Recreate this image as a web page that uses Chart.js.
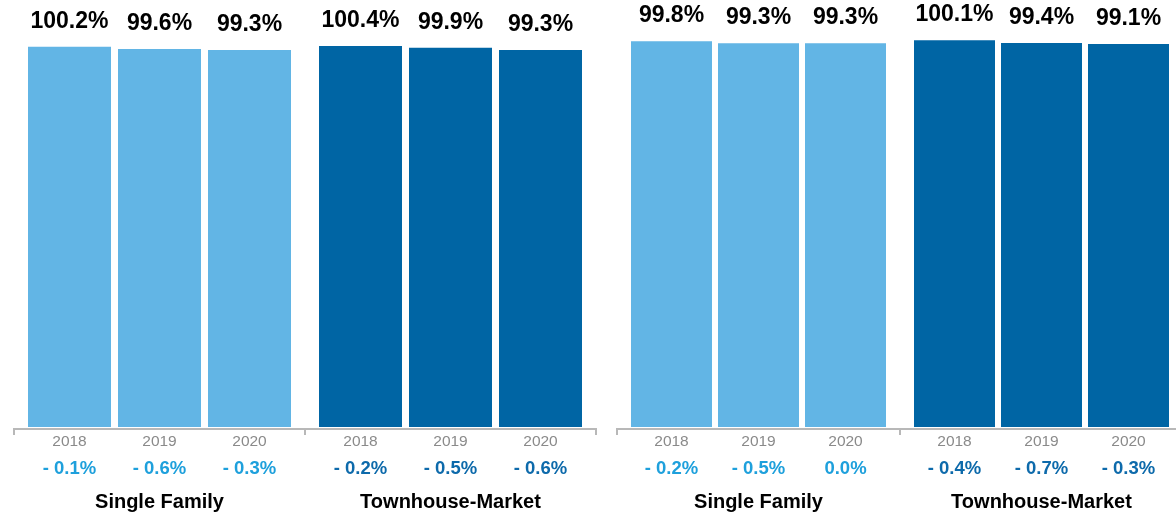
<!DOCTYPE html>
<html>
<head>
<meta charset="utf-8">
<script src="https://cdn.jsdelivr.net/npm/chart.js@4.4.1/dist/chart.umd.min.js"></script>
<style>
  html, body { margin: 0; padding: 0; background: #fff; overflow: hidden; width: 1176px; height: 516px; }
  canvas { position: absolute; top: 0; }
  #leftChart { left: 0; }
  #rightChart { left: 603px; }
</style>
</head>
<body>
<canvas id="leftChart" width="610" height="571"></canvas>
<canvas id="rightChart" width="594" height="571"></canvas>
<script>
// Chart data
const groups = ["Single Family", "Townhouse-Market"];
const years = ["2018", "2019", "2020"];

const leftSingleFamily = [100.2, 99.6, 99.3];
const leftTownhouse = [100.4, 99.9, 99.3];
const leftSingleChange = ["- 0.1%", "- 0.6%", "- 0.3%"];
const leftTownChange = ["- 0.2%", "- 0.5%", "- 0.6%"];

const rightSingleFamily = [99.8, 99.3, 99.3];
const rightTownhouse = [100.1, 99.4, 99.1];
const rightSingleChange = ["- 0.2%", "- 0.5%", "0.0%"];
const rightTownChange = ["- 0.4%", "- 0.7%", "- 0.3%"];

const barColors = ["#62b5e5", "#0065a4"];
const changeColors = ["#1ea0dc", "#0d6aab"];
const FONT = "'Liberation Sans', Arial, Helvetica, sans-serif";

// Labels above bars + years + changes under the axis
const labelPlugin = {
  id: "barLabels",
  afterDatasetsDraw(chart, args, opts) {
    const ctx = chart.ctx;
    const bottom = chart.chartArea.bottom;
    ctx.save();
    ctx.textAlign = "center";
    chart.data.datasets.forEach((ds, i) => {
      const meta = chart.getDatasetMeta(i);
      meta.data.forEach((bar, j) => {
        const val = ds.data[j];
        ctx.fillStyle = "#000";
        ctx.font = "bold 23px " + FONT;
        ctx.textBaseline = "alphabetic";
        ctx.fillText(val.toFixed(1) + "%", bar.x, bar.y - 19);

        ctx.textBaseline = "middle";
        ctx.fillStyle = "#8a8a8a";
        ctx.font = "15.5px " + FONT;
        ctx.fillText(ds.label, bar.x, bottom + 12.5);

        ctx.fillStyle = changeColors[j];
        ctx.font = "bold 18.5px " + FONT;
        ctx.fillText(opts.changes[j][i], bar.x, bottom + 39.5);
      });
    });
    ctx.restore();
  }
};

function makeChart(id, single, town, singleChange, townChange, yMin, yMax, catPct, barPct) {
  const datasets = years.map((y, i) => ({
    label: y,
    data: [single[i], town[i]],
    backgroundColor: barColors,
    borderWidth: 0,
    categoryPercentage: catPct,
    barPercentage: barPct
  }));

  return new Chart(document.getElementById(id), {
    type: "bar",
    data: { labels: groups, datasets: datasets },
    plugins: [labelPlugin],
    options: {
      responsive: false,
      animation: false,
      layout: { padding: { left: 14, right: 14, top: 0, bottom: 2 } },
      plugins: {
        legend: { display: false },
        tooltip: { enabled: false },
        barLabels: { changes: [singleChange, townChange] }
      },
      scales: {
        x: {
          grid: { offset: true, drawOnChartArea: false, drawTicks: true, tickLength: 6, color: "#b8b8b8", lineWidth: 2 },
          border: { display: true, color: "#b8b8b8", width: 2 },
          ticks: { color: "#000", padding: 55, font: { family: FONT, size: 20, weight: "bold" } }
        },
        y: { display: false, min: yMin, max: yMax }
      }
    }
  });
}

makeChart("leftChart", leftSingleFamily, leftTownhouse, leftSingleChange, leftTownChange, -0.53, 112.5, 270 / 291, 83 / 90);
makeChart("rightChart", rightSingleFamily, rightTownhouse, rightSingleChange, rightTownChange, -0.52, 110.5, 261 / 283, 81 / 87);
</script>
</body>
</html>
